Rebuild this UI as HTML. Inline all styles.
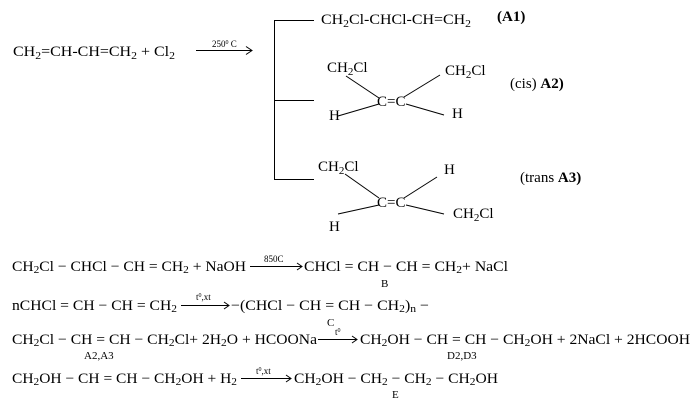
<!DOCTYPE html>
<html><head><meta charset="utf-8"><style>
html,body{margin:0;padding:0;background:#fff;}
svg{display:block;}
text{font-family:"Liberation Serif",serif;font-size:15px;fill:#000;}
.s{font-size:11px;}
.sm{font-size:9px;}
.b{font-weight:bold;}
</style></head><body>
<svg width="691" height="405" viewBox="0 0 691 405" xmlns="http://www.w3.org/2000/svg">
<g stroke="#000" stroke-width="1" fill="none">
<line x1="274.5" y1="20.5" x2="274.5" y2="179.5"/>
<line x1="274" y1="20.5" x2="314" y2="20.5"/>
<line x1="274" y1="100.5" x2="314" y2="100.5"/>
<line x1="274" y1="179.5" x2="314" y2="179.5"/>
<!-- top arrow -->
<line x1="196" y1="50.5" x2="252" y2="50.5"/>
<polyline points="246,46.5 252,50.5 246,54.5"/>
<!-- A2 bonds -->
<line x1="346" y1="76" x2="379" y2="98"/>
<line x1="440" y1="75" x2="404" y2="97"/>
<line x1="338" y1="116" x2="379" y2="104"/>
<line x1="406" y1="104" x2="444" y2="115"/>
<!-- A3 bonds -->
<line x1="345" y1="174" x2="379" y2="198"/>
<line x1="437" y1="177" x2="404" y2="198"/>
<line x1="338" y1="214" x2="379" y2="205"/>
<line x1="406" y1="205" x2="444" y2="214"/>
<!-- equation arrows -->
<line x1="250" y1="266.5" x2="302" y2="266.5"/><polyline points="297,263 302,266.5 297,270"/>
<line x1="181" y1="305.5" x2="229" y2="305.5"/><polyline points="224,302 229,305.5 224,309"/>
<line x1="318" y1="339.5" x2="357" y2="339.5"/><polyline points="352,336 357,339.5 352,343"/>
<line x1="241" y1="378.5" x2="291" y2="378.5"/><polyline points="286,375 291,378.5 286,382"/>
</g>

<text x="13" y="56" textLength="162" lengthAdjust="spacingAndGlyphs">CH<tspan class="s" dy="3">2</tspan><tspan dy="-3">=CH-CH=CH</tspan><tspan class="s" dy="3">2</tspan><tspan dy="-3"> + Cl</tspan><tspan class="s" dy="3">2</tspan></text>
<text x="212" y="47" class="sm">250<tspan font-size="6" dy="-3">0</tspan><tspan dy="3"> C</tspan></text>

<text x="321" y="24" textLength="150" lengthAdjust="spacingAndGlyphs">CH<tspan class="s" dy="3">2</tspan><tspan dy="-3">Cl-CHCl-CH=CH</tspan><tspan class="s" dy="3">2</tspan></text>
<text x="497" y="21" class="b">(A1)</text>

<text x="327" y="72">CH<tspan class="s" dy="3">2</tspan><tspan dy="-3">Cl</tspan></text>
<text x="445" y="75">CH<tspan class="s" dy="3">2</tspan><tspan dy="-3">Cl</tspan></text>
<text x="510" y="88">(cis) <tspan class="b">A2)</tspan></text>
<text x="377" y="106">C=C</text>
<text x="329" y="120">H</text>
<text x="452" y="118">H</text>

<text x="318" y="171">CH<tspan class="s" dy="3">2</tspan><tspan dy="-3">Cl</tspan></text>
<text x="444" y="174">H</text>
<text x="520" y="182">(trans  <tspan class="b">A3)</tspan></text>
<text x="377" y="207">C=C</text>
<text x="329" y="231">H</text>
<text x="453" y="218">CH<tspan class="s" dy="3">2</tspan><tspan dy="-3">Cl</tspan></text>

<!-- line 1 -->
<text x="12" y="271" textLength="234" lengthAdjust="spacingAndGlyphs">CH<tspan class="s" dy="2">2</tspan><tspan dy="-2">Cl − CHCl − CH = CH</tspan><tspan class="s" dy="2">2</tspan><tspan dy="-2"> + NaOH</tspan></text>
<text x="264" y="262" class="sm">850C</text>
<text x="304" y="271" textLength="204" lengthAdjust="spacingAndGlyphs">CHCl = CH − CH = CH<tspan class="s" dy="2">2</tspan><tspan dy="-2">+ NaCl</tspan></text>
<text x="381" y="287" class="s">B</text>

<!-- line 2 -->
<text x="12" y="310" textLength="165" lengthAdjust="spacingAndGlyphs">nCHCl = CH − CH = CH<tspan class="s" dy="2">2</tspan></text>
<text x="196" y="300" class="sm">t<tspan font-size="6" dy="-3">0</tspan><tspan dy="3">,xt</tspan></text>
<text x="231" y="310" textLength="198" lengthAdjust="spacingAndGlyphs">−(CHCl − CH = CH − CH<tspan class="s" dy="2">2</tspan><tspan dy="-2">)</tspan><tspan class="s" dy="2">n</tspan><tspan dy="-2"> −</tspan></text>
<text x="327" y="326" class="s">C</text>

<!-- line 3 -->
<text x="12" y="344" textLength="305" lengthAdjust="spacingAndGlyphs">CH<tspan class="s" dy="2">2</tspan><tspan dy="-2">Cl − CH = CH − CH</tspan><tspan class="s" dy="2">2</tspan><tspan dy="-2">Cl+ 2H</tspan><tspan class="s" dy="2">2</tspan><tspan dy="-2">O + HCOONa</tspan></text>
<text x="335" y="335" class="sm">t<tspan font-size="6" dy="-3">0</tspan></text>
<text x="360" y="344" textLength="330" lengthAdjust="spacingAndGlyphs">CH<tspan class="s" dy="2">2</tspan><tspan dy="-2">OH − CH = CH − CH</tspan><tspan class="s" dy="2">2</tspan><tspan dy="-2">OH + 2NaCl + 2HCOOH</tspan></text>
<text x="84" y="359" class="s">A2,A3</text>
<text x="447" y="359" class="s">D2,D3</text>

<!-- line 4 -->
<text x="12" y="383" textLength="225" lengthAdjust="spacingAndGlyphs">CH<tspan class="s" dy="2">2</tspan><tspan dy="-2">OH − CH = CH − CH</tspan><tspan class="s" dy="2">2</tspan><tspan dy="-2">OH + H</tspan><tspan class="s" dy="2">2</tspan></text>
<text x="256" y="374" class="sm">t<tspan font-size="6" dy="-3">0</tspan><tspan dy="3">,xt</tspan></text>
<text x="294" y="383" textLength="204" lengthAdjust="spacingAndGlyphs">CH<tspan class="s" dy="2">2</tspan><tspan dy="-2">OH − CH</tspan><tspan class="s" dy="2">2</tspan><tspan dy="-2"> − CH</tspan><tspan class="s" dy="2">2</tspan><tspan dy="-2"> − CH</tspan><tspan class="s" dy="2">2</tspan><tspan dy="-2">OH</tspan></text>
<text x="392" y="398" class="s">E</text>
</svg>
</body></html>
